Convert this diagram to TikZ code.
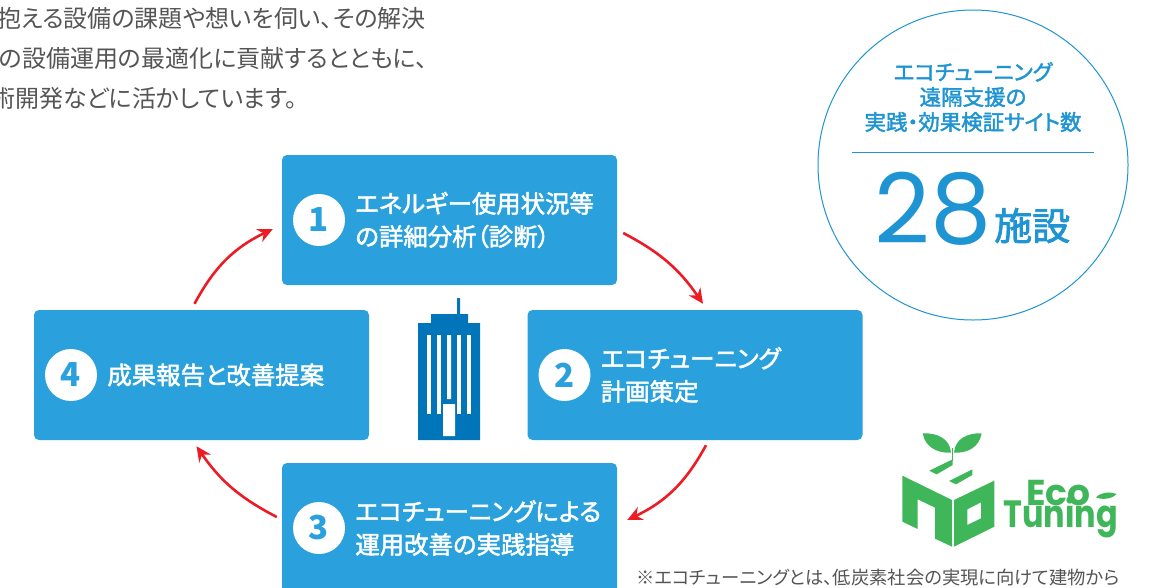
\documentclass[tikz,border=0pt]{standalone}
\usepackage{fontspec}
\usepackage{tikz}
\usetikzlibrary{positioning, arrows.meta}
\setmainfont[RawFeature={+palt}]{Noto Sans CJK JP}
\newfontfamily\cjkfat[FakeBold=2, RawFeature={+palt}]{Noto Sans CJK JP}
\newfontfamily\bignum{Poppins}
\newfontfamily\logofont{Poppins}
\definecolor{boxblue}{HTML}{2AA1DC}
\definecolor{linkblue}{HTML}{1F94D2}
\definecolor{towerblue}{HTML}{0075BA}
\definecolor{leafgreen}{HTML}{3FB65A}
\definecolor{arrowred}{HTML}{ED1C24}
\definecolor{copygray}{HTML}{555555}
\tikzstyle{stepbox} = [rectangle, rounded corners=5pt, minimum width=335pt, minimum height=130pt, fill=boxblue, inner sep=0pt]
\tikzstyle{stepnum} = [circle, minimum size=52pt, inner sep=0pt, fill=white, text=boxblue, font=\fontsize{33}{33}\selectfont\bfseries]
\tikzstyle{steptext} = [align=left, inner sep=0pt, text=white, font=\fontsize{24.4}{33}\cjkfat]
\tikzstyle{copytext} = [anchor=west, inner sep=0pt, text=copygray, font=\fontsize{24}{24}\selectfont]
\tikzstyle{arrow} = [line width=2.6pt, arrowred, -{Stealth[length=15pt,width=14pt]}]
\begin{document}
\begin{tikzpicture}[x=1pt, y=-1pt]
	\useasboundingbox (0,0) rectangle (1150,587);
	\clip (0,0) rectangle (1150,587);

	\node (copya) [copytext] at (-3,18) {抱える設備の課題や想いを伺い、その解決};
	\node (copyb) [copytext] at (-1,58) {の設備運用の最適化に貢献するとともに、};
	\node (copyc) [copytext] at (-9,98) {術開発などに活かしています。};

	\node (box1) [stepbox] at (449.5,220) {};
	\node (box2) [stepbox] at (695,375) {};
	\node (box3) [stepbox] at (449.5,528) {};
	\node (box4) [stepbox] at (201.5,375) {};

	\node (num1) [stepnum, right=11pt of box1.west] {1};
	\node (num2) [stepnum, right=11pt of box2.west] {2};
	\node (num3) [stepnum, right=11pt of box3.west] {3};
	\node (num4) [stepnum, right=11pt of box4.west] {4};

	\node (text1) [steptext, right=10pt of num1] {エネルギー使用状況等\\の詳細分析（診断）};
	\node (text2) [steptext, right=10pt of num2] {エコチューニング\\計画策定};
	\node (text3) [steptext, right=10pt of num3] {エコチューニングによる\\運用改善の実践指導};
	\node (text4) [steptext, right=10pt of num4] {成果報告と改善提案};

	\draw [arrow] ([shift={(6,13)}]box1.east) to[bend left=14] ([shift={(8,-6)}]box2.north);
	\draw [arrow] ([shift={(11,5)}]box2.south) to[bend left=18] ([shift={(10,-8)}]box3.east);
	\draw [arrow] ([shift={(-5,-11)}]box3.west) to[bend left=14] ([shift={(-5,6)}]box4.south);
	\draw [arrow] ([shift={(-7,-6)}]box4.north) to[bend left=18] ([shift={(-9,9)}]box1.west);

	% tower
	\fill [towerblue] (457,298) rectangle (460,314) (431,314) rectangle (468,323) (418,323) rectangle (480,440);
	\foreach \wx in {427,437,457,467}
		\fill [white] (\wx,335) rectangle ++(4,79);
	\fill [white] (447,335) rectangle (451,399) (443,404) rectangle (455,436);

	\node (sitecircle) [circle, draw=linkblue, line width=1pt, minimum size=310pt, inner sep=0pt] at (973,165) {};
	\node (sitetitle) [align=center, inner sep=0pt, text=linkblue, font=\fontsize{21.5}{25}\cjkfat] at (973,97) {エコチューニング\\遠隔支援の\\実践・効果検証サイト数};
	\coordinate (ruleleft) at (852,152);
	\coordinate (ruleright) at (1094,152);
	\draw [linkblue, line width=0.8pt] (ruleleft) -- (ruleright);
	\node (sitecount) [anchor=base east, inner sep=0pt, text=linkblue, font=\fontsize{97}{97}\bignum] at (992,243) {28};
	\node (siteunit) [anchor=base west, inner sep=0pt, text=linkblue, font=\fontsize{38}{38}\cjkfat] at (994,240) {施設};

	% logo
	\begin{scope}[shift={(880,420)}, x=0.3333pt, y=-0.3333pt]
		\fill [leafgreen] (128,40) .. controls (170,38) and (210,55) .. (213,98) .. controls (170,100) and (135,80) .. (128,40);
		\fill [leafgreen] (305,40) .. controls (265,38) and (225,55) .. (222,98) .. controls (265,100) and (298,80) .. (305,40);
		\draw [leafgreen, line width=1.5pt] (217,85) -- (217,122);
		\fill [leafgreen] (148,152) -- (218,118) -- (218,135) -- (170,163) -- cycle;
		\fill [leafgreen] (207,183) -- (277,148) -- (277,165) -- (228,193) -- cycle;
		\fill [leafgreen] (67,167) -- (216,240) -- (216,380) -- (165,356) -- (165,263) -- (113,238) -- (113,327) -- (67,305) -- cycle;
		\fill [leafgreen, even odd rule] (222,240) -- (343,182) -- (343,320) -- (222,380) -- cycle (262,268) -- (303,247) -- (303,295) -- (262,315) -- cycle;
		\fill [leafgreen] (648,232) .. controls (665,215) and (690,215) .. (710,222) .. controls (695,238) and (665,240) .. (648,232);
	\end{scope}
	\node (logoeco) [anchor=base west, inner sep=0pt, text=leafgreen, font=\fontsize{36}{36}\logofont\bfseries] at (1026,505) {Eco};
	\node (logotuning) [anchor=base west, inner sep=0pt, xscale=0.84, text=leafgreen, font=\fontsize{38}{38}\logofont\bfseries] at (1003,527) {Tuning};

	\node (footnote) [anchor=west, inner sep=0pt, text=copygray, font=\fontsize{18.3}{20}\selectfont] at (636,578) {※エコチューニングとは、低炭素社会の実現に向けて建物から};
\end{tikzpicture}
\end{document}
